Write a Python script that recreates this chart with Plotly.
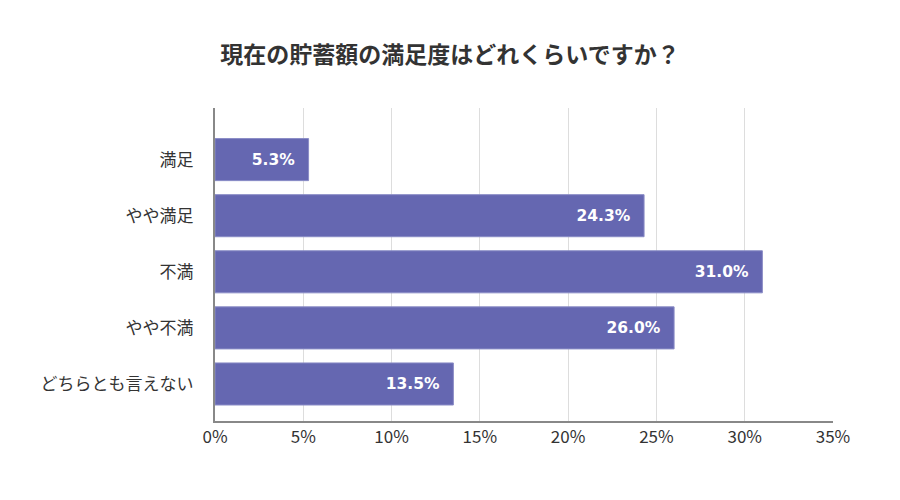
import plotly.graph_objects as go

categories = ["満足", "やや満足", "不満", "やや不満", "どちらとも言えない"]
values = [5.3, 24.3, 31.0, 26.0, 13.5]
tick_vals = [0, 5, 10, 15, 20, 25, 30, 35]
tick_text = ["0%", "5%", "10%", "15%", "20%", "25%", "30%", "35%"]

fig = go.Figure(go.Bar(
    x=values,
    y=categories,
    orientation="h",
    marker=dict(color="#6567B1", line=dict(color="#8a8cc6", width=1)),
    text=[f"{v:.1f}%\u00a0\u00a0" for v in values],
    textposition="inside",
    insidetextanchor="end",
    textfont=dict(color="white", size=15.5, family="DejaVu Sans", weight="bold"),
    width=0.75,
    hoverinfo="skip",
))

fig.update_layout(
    width=900, height=500,
    margin=dict(l=207, r=75, t=100, b=87),
    paper_bgcolor="white", plot_bgcolor="white",
    title=dict(text="現在の貯蓄額の満足度はどれくらいですか？", x=442/900, xanchor="center",
               y=1 - 47/500, yanchor="middle",
               font=dict(family="Noto Sans CJK JP", size=23, color="#333333", weight="bold")),
    showlegend=False,
    font=dict(family="Noto Sans CJK JP", color="#333333"),
)
fig.update_xaxes(
    range=[0, 35], tickvals=tick_vals, ticktext=tick_text,
    showgrid=True, gridcolor="#dddddd", gridwidth=1,
    showline=True, linecolor="#888888", linewidth=2,
    tickfont=dict(size=17, color="#333333", family="Noto Sans CJK JP"),
    ticks="", zeroline=False, fixedrange=True,
)
fig.update_yaxes(
    categoryorder="array", categoryarray=categories,
    range=[4.66, -0.92],
    showline=True, linecolor="#888888", linewidth=2,
    showgrid=False, ticks="", ticklabelstandoff=16,
    tickfont=dict(size=17, color="#333333", family="Noto Sans CJK JP"),
)

fig.write_html("out.html")
